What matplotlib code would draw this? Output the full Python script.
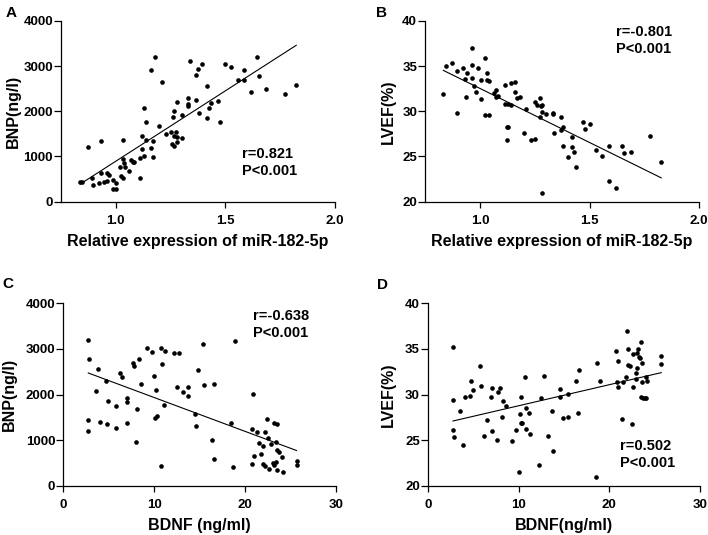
import numpy as np
import matplotlib
matplotlib.use('Agg')
import matplotlib.pyplot as plt

plt.rcParams['font.family'] = ['Liberation Sans', 'DejaVu Sans']
plt.rcParams['font.weight'] = 'bold'

# Panel A: miR-182-5p vs BNP
mir_a = [0.838, 0.845, 0.873, 0.892, 0.894, 0.932, 0.932, 0.923, 0.944, 0.962,
         0.962, 0.971, 0.989, 0.985, 1.0, 1.0, 1.021, 1.024, 1.032, 1.032,
         1.032, 1.039, 1.044, 1.061, 1.070, 1.077, 1.082, 1.111, 1.111, 1.120,
         1.121, 1.130, 1.130, 1.138, 1.138, 1.159, 1.159, 1.168, 1.171, 1.179,
         1.197, 1.209, 1.229, 1.250, 1.255, 1.259, 1.267, 1.267, 1.267, 1.273,
         1.277, 1.277, 1.277, 1.300, 1.300, 1.327, 1.327, 1.327, 1.338, 1.365,
         1.365, 1.377, 1.379, 1.395, 1.417, 1.417, 1.426, 1.436, 1.467, 1.474,
         1.497, 1.526, 1.556, 1.585, 1.585, 1.615, 1.644, 1.655, 1.683, 1.773,
         1.823]
bnp_a = [442, 442, 1215, 516, 368, 1340, 626, 420, 442, 457,
         641, 589, 479, 280, 280, 420, 773, 575, 1363, 935,
         516, 862, 759, 678, 921, 884, 869, 516, 958, 1459,
         1164, 2077, 1017, 1363, 1753, 2910, 1179, 1348, 994, 3190,
         1680, 2637, 1495, 1532, 1267, 1878, 2011, 1451, 1238, 1547,
         2210, 1436, 1326, 1915, 1414, 2299, 2159, 2114, 3109, 2799,
         2247, 2946, 1967, 3035, 2556, 1842, 2077, 2188, 2232, 1768,
         3035, 2983, 2689, 2910, 2689, 2416, 3204, 2777, 2483, 2379,
         2578]

# Panel B: miR-182-5p vs LVEF
mir_b = [0.833, 0.845, 0.874, 0.894, 0.894, 0.922, 0.932, 0.935, 0.942, 0.962,
         0.962, 0.962, 0.973, 0.983, 0.992, 1.003, 1.003, 1.023, 1.023, 1.033,
         1.033, 1.043, 1.043, 1.064, 1.071, 1.071, 1.082, 1.112, 1.112, 1.122,
         1.122, 1.129, 1.129, 1.140, 1.140, 1.160, 1.160, 1.170, 1.181, 1.201,
         1.211, 1.231, 1.251, 1.251, 1.261, 1.272, 1.272, 1.277, 1.281, 1.284,
         1.284, 1.302, 1.333, 1.333, 1.340, 1.368, 1.371, 1.378, 1.380, 1.400,
         1.419, 1.419, 1.429, 1.439, 1.468, 1.479, 1.500, 1.529, 1.558, 1.588,
         1.588, 1.619, 1.646, 1.657, 1.687, 1.777, 1.827]
lvef_b = [31.93, 34.99, 35.29, 34.44, 29.76, 34.81, 33.52, 31.53, 34.25, 37.02,
          35.17, 33.70, 32.78, 32.08, 34.81, 33.44, 31.38, 35.84, 29.54, 34.25,
          33.44, 33.33, 29.54, 31.97, 32.34, 31.53, 31.71, 32.89, 30.79, 28.29,
          26.78, 28.21, 30.86, 33.15, 30.68, 33.19, 32.15, 31.49, 31.60, 27.55,
          30.24, 26.81, 31.05, 26.89, 30.68, 31.49, 29.39, 30.57, 20.99, 29.94,
          30.64, 29.69, 29.83, 29.65, 27.55, 29.32, 27.92, 28.21, 26.15, 24.97,
          27.18, 26.08, 25.49, 23.79, 28.84, 28.03, 28.55, 25.71, 25.08, 26.19,
          22.28, 21.47, 26.15, 25.41, 25.52, 27.26, 24.42]

# Panel C: BDNF vs BNP
bdnf_c = [2.75, 2.86, 2.75, 2.75, 3.56, 3.85, 4.03, 4.66, 4.77, 4.95,
          5.76, 5.83, 6.23, 6.49, 6.97, 6.97, 7.04, 7.70, 7.77, 7.96,
          8.14, 8.32, 8.58, 9.24, 9.72, 9.97, 10.08, 10.34, 10.19, 10.71,
          10.78, 10.82, 11.04, 11.22, 12.14, 12.76, 12.47, 13.20, 13.68, 13.68,
          14.52, 14.56, 14.85, 15.36, 15.47, 16.57, 16.32, 16.57, 18.45, 18.70,
          18.92, 20.72, 20.75, 20.86, 20.99, 21.34, 21.52, 21.75, 21.96, 22.00,
          22.15, 22.22, 22.44, 22.48, 22.59, 22.85, 23.03, 23.17, 23.17, 23.40,
          23.47, 23.47, 23.43, 23.47, 23.76, 24.02, 24.13, 25.67, 25.67]
bnp_c = [3188, 2771, 1441, 1207, 2077, 2559, 1404, 2296, 1353, 1865,
         1748, 1265, 2464, 2377, 1916, 1843, 1367, 2684, 2625, 965,
         1682, 2786, 2230, 3013, 2940, 2413, 1492, 1536, 2099, 439,
         3013, 2669, 1762, 2962, 2903, 2903, 2157, 2062, 1967, 2172,
         1565, 1309, 2537, 3101, 2208, 2230, 1002, 585, 1382, 417,
         3181, 475, 1236, 2011, 651, 1170, 943, 687, 878, 468,
         1185, 439, 1463, 1038, 366, 907, 490, 1367, 453, 527,
         1346, 344, 951, 782, 746, 622, 293, 548, 453]

# Panel D: BDNF vs LVEF
bdnf_d = [2.76, 2.76, 2.76, 2.83, 3.53, 3.86, 4.04, 4.63, 4.78, 4.96,
          5.70, 5.85, 6.21, 6.47, 6.95, 7.02, 7.02, 7.65, 7.76, 7.94,
          8.13, 8.31, 8.57, 9.26, 9.74, 10.0, 10.11, 10.22, 10.22, 10.40,
          10.66, 10.81, 10.81, 11.10, 11.21, 12.24, 12.50, 12.79, 13.24, 13.71,
          13.75, 14.52, 14.52, 14.89, 15.44, 15.48, 16.32, 16.58, 16.65, 18.49,
          18.68, 18.93, 20.74, 20.81, 20.92, 20.99, 21.36, 21.54, 21.80, 22.0,
          22.10, 22.10, 22.28, 22.54, 22.57, 22.61, 22.90, 22.98, 23.01, 23.09,
          23.20, 23.27, 23.38, 23.46, 23.46, 23.57, 23.57, 23.71, 23.93, 24.08,
          24.08, 24.12, 25.74, 25.74]
lvef_d = [35.25, 29.40, 26.11, 25.37, 28.19, 24.46, 29.69, 29.84, 31.48, 30.49,
          33.13, 30.93, 25.48, 27.20, 29.69, 30.68, 26.03, 25.01, 30.24, 30.75,
          27.57, 29.32, 28.78, 24.94, 26.11, 21.46, 27.82, 29.76, 26.84, 26.91,
          31.88, 28.56, 26.22, 28.01, 25.67, 22.27, 29.58, 32.07, 25.48, 28.19,
          23.80, 30.60, 29.76, 27.39, 27.50, 30.02, 31.52, 27.93, 32.69, 20.99,
          33.42, 31.52, 34.77, 31.41, 30.79, 33.67, 27.28, 31.41, 31.88, 36.97,
          34.95, 33.24, 33.13, 26.76, 30.86, 34.41, 31.70, 32.32, 32.87, 34.59,
          34.99, 34.15, 34.04, 35.80, 29.76, 31.33, 33.49, 29.58, 29.58, 29.58,
          31.96, 31.52, 34.22, 33.35]

panels = [
    # letter, x, y, xlabel, ylabel, xlim, xticks, ylim, yticks, stats text, text pos
    ('A', mir_a, bnp_a, 'Relative expression of miR-182-5p', 'BNP(ng/l)',
     (0.75, 2.0), [1.0, 1.5, 2.0], (0, 4000), [0, 1000, 2000, 3000, 4000],
     'r=0.821\nP<0.001', (1.576, 860)),
    ('B', mir_b, lvef_b, 'Relative expression of miR-182-5p', 'LVEF(%)',
     (0.75, 2.0), [1.0, 1.5, 2.0], (20, 40), [20, 25, 30, 35, 40],
     'r=-0.801\nP<0.001', (1.619, 37.85)),
    ('C', bdnf_c, bnp_c, 'BDNF (ng/ml)', 'BNP(ng/l)',
     (0, 30), [0, 10, 20, 30], (0, 4000), [0, 1000, 2000, 3000, 4000],
     'r=-0.638\nP<0.001', (20.83, 3540)),
    ('D', bdnf_d, lvef_d, 'BDNF(ng/ml)', 'LVEF(%)',
     (0, 30), [0, 10, 20, 30], (20, 40), [20, 25, 30, 35, 40],
     'r=0.502\nP<0.001', (21.14, 23.43)),
]

rects = [[0.0862, 0.623, 0.387, 0.338],
         [0.6005, 0.623, 0.387, 0.338],
         [0.0894, 0.092, 0.385, 0.341],
         [0.6045, 0.092, 0.384, 0.341]]
# x of the label's right edge, in axes fraction
ylabel_x = [-0.147, -0.106, -0.170, -0.118]
letter_pos = [(0.008, 0.988), (0.531, 0.988), (0.004, 0.483), (0.532, 0.481)]

fig = plt.figure(figsize=(7.08, 5.35), dpi=100)

for rect, lx, lp, p in zip(rects, ylabel_x, letter_pos, panels):
    letter, x, y, xlab, ylab, xlim, xticks, ylim, yticks, txt, tpos = p
    ax = fig.add_axes(rect)
    x = np.array(x)
    y = np.array(y)
    ax.scatter(x, y, s=11, color='black', linewidths=0, zorder=3)
    k, b = np.polyfit(x, y, 1)
    xs = np.array([x.min(), x.max()])
    ax.plot(xs, k * xs + b, color='black', lw=0.8)
    ax.set_xlim(*xlim)
    ax.set_ylim(*ylim)
    ax.set_xticks(xticks)
    ax.set_yticks(yticks)
    if xlim[1] < 5:
        ax.set_xticklabels(['{:.1f}'.format(v) for v in xticks])
    ax.spines['top'].set_visible(False)
    ax.spines['right'].set_visible(False)
    for s in ['left', 'bottom']:
        ax.spines[s].set_linewidth(0.9)
    ax.tick_params(axis='x', direction='out', length=4.3, width=0.9, pad=5,
                   labelsize=9.5)
    ax.tick_params(axis='y', direction='out', length=5, width=0.9, pad=0.8,
                   labelsize=9.5)
    ax.set_xlabel(xlab, fontsize=11.5, fontweight='bold', labelpad=5)
    ax.set_ylabel(ylab, fontsize=11.5, fontweight='bold')
    ax.yaxis.set_label_coords(lx, 0.5)
    ax.text(tpos[0], tpos[1], txt, fontsize=10.5, fontweight='bold',
            ha='left', va='center', linespacing=1.25)
    fig.text(lp[0], lp[1], letter, fontsize=11, fontweight='bold',
             ha='left', va='top')

fig.savefig('out.png', dpi=100)
